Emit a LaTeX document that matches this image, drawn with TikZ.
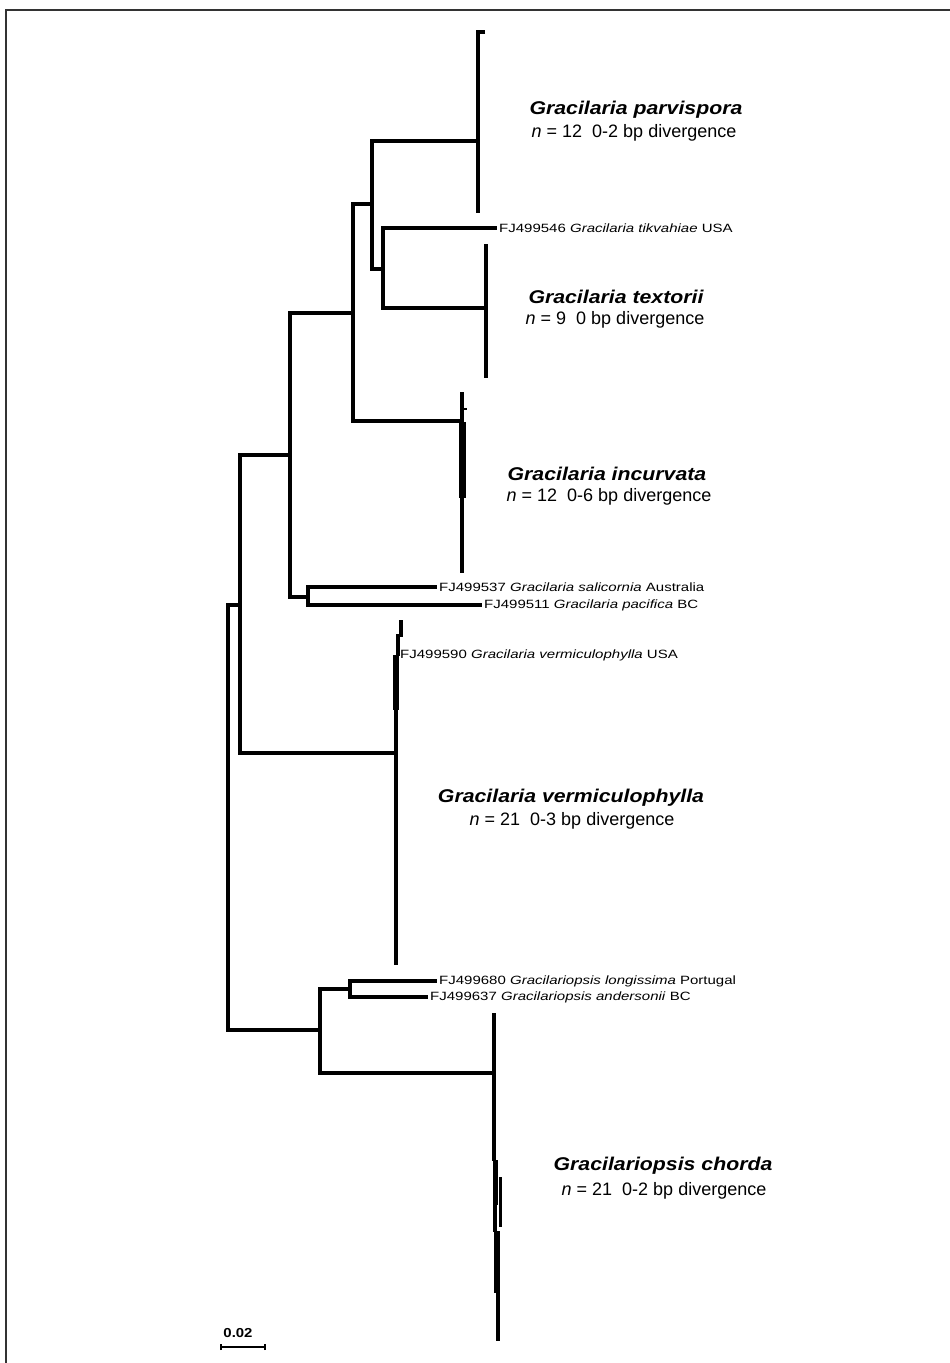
\documentclass[tikz,border=0pt]{standalone}
\usepackage{fontspec}
\setmainfont{Liberation Sans}
\usepackage{graphicx}
\usetikzlibrary{positioning}

% text in the tree is set a little wider than the font
\newcommand{\tipw}[1]{\scalebox{1.25}[1]{#1}}
\newcommand{\cladew}[1]{\scalebox{1.15}[1]{#1}}

\begin{document}
\begin{tikzpicture}[x=1pt,y=-1pt,
  branch/.style={line width=3.4pt},
  tiplab/.style={anchor=west,inner sep=2pt,font=\fontsize{12}{12}\selectfont},
  cladename/.style={inner sep=0pt,font=\fontsize{18.5}{20}\selectfont\bfseries\itshape},
  cladeinfo/.style={inner sep=0pt,font=\fontsize{18}{18}\selectfont}]
\useasboundingbox (0,0) rectangle (950,1363);
\draw[line width=1.4pt,black!80] (6,1363) |- (950,10);

% internal nodes of the tree
\coordinate (root) at (228,817);
\coordinate (nA) at (240,605);
\coordinate (nB) at (290,455);
\coordinate (nC) at (353,313);
\coordinate (nD) at (308,597);
\coordinate (nE) at (372,204);
\coordinate (nF) at (383,269);
\coordinate (nG) at (320,1030);
\coordinate (nH) at (350,989);
% collapsed clades
\coordinate (parv) at (478,141);
\coordinate (text) at (486,308);
\coordinate (incu) at (462,421);
\coordinate (verm) at (396,753);
\coordinate (chor) at (494,1073);

% single sequences
\node[tiplab] (tik) at (497,228) {\tipw{FJ499546 \textit{Gracilaria tikvahiae} USA}};
\node[tiplab] (sal) at (437,587) {\tipw{FJ499537 \textit{Gracilaria salicornia} Australia}};
\node[tiplab] (pac) at (482,605) {\tipw{FJ499511 \textit{Gracilaria pacifica} BC}};
\node[tiplab] (vus) at (398,655) {\tipw{FJ499590 \textit{Gracilaria vermiculophylla} USA}};
\node[tiplab] (lon) at (437,981) {\tipw{FJ499680 \textit{Gracilariopsis longissima} Portugal}};
\node[tiplab] (and) at (428,997) {\tipw{FJ499637 \textit{Gracilariopsis andersonii} BC}};

\draw[branch] (root) |- (nA);
\draw[branch] (root) |- (nG);
\draw[branch] (nA) |- (nB);
\draw[branch] (nA) |- (verm);
\draw[branch] (nB) |- (nC);
\draw[branch] (nB) |- (nD);
\draw[branch] (nC) |- (nE);
\draw[branch] (nC) |- (incu);
\draw[branch] (nE) |- (parv);
\draw[branch] (nE) |- (nF);
\draw[branch] (nF) |- (tik.west);
\draw[branch] (nF) |- (text);
\draw[branch] (nD) |- (sal.west);
\draw[branch] (nD) |- (pac.west);
\draw[branch] (nG) |- (nH);
\draw[branch] (nG) |- (chor);
\draw[branch] (nH) |- (lon.west);
\draw[branch] (nH) |- (and.west);

% clade bars
\draw[branch] (485,32) -| (478,213);
\draw[branch] (486,244) -- (486,378);
\draw[branch] (462,392) -- (462,573);
\draw[line width=2.4pt] (462,409) -- (467,409);
\fill (459,422) rectangle (466,498);
\draw[branch] (401,620) -- (401,637);
\draw[line width=4pt] (398,634) -- (398,656);
\fill (393,655) rectangle (399,710);
\draw[line width=4pt] (396,709) -- (396,843);
\draw[branch] (396,842) -- (396,965);
\draw[branch] (494,1013) -- (494,1161);
\fill (492.5,1160) rectangle (498,1205);
\draw[branch] (495,1204) -- (495,1232);
\draw[branch] (500.5,1177) -- (500.5,1227);
\fill (494,1231) rectangle (499.5,1293);
\draw[branch] (498,1292) -- (498,1341);

% clade labels
\node[cladename] (tparv) at (636,110) {\cladew{Gracilaria parvispora}};
\node[cladeinfo] (iparv) at (634,133) {\textit{n} = 12~~0-2 bp divergence};
\node[cladename] (ttext) at (616,297) {\cladew{Gracilaria textorii}};
\node[cladeinfo] (itext) at (615,320) {\textit{n} = 9~~0 bp divergence};
\node[cladename] (tincu) at (607,474) {\cladew{Gracilaria incurvata}};
\node[cladeinfo] (iincu) at (609,497) {\textit{n} = 12~~0-6 bp divergence};
\node[cladename] (tverm) at (571,798) {\cladew{Gracilaria vermiculophylla}};
\node[cladeinfo] (iverm) at (572,821) {\textit{n} = 21~~0-3 bp divergence};
\node[cladename] (tchor) at (663,1166) {\cladew{Gracilariopsis chorda}};
\node[cladeinfo] (ichor) at (664,1191) {\textit{n} = 21~~0-2 bp divergence};

% scale bar
\coordinate (sbL) at (221,1347);
\coordinate (sbR) at (265,1347);
\draw[line width=1.6pt] (sbL) -- (sbR);
\draw[line width=1.6pt] ([yshift=-3pt]sbL) -- ([yshift=3pt]sbL);
\draw[line width=1.6pt] ([yshift=-3pt]sbR) -- ([yshift=3pt]sbR);
\node[font=\fontsize{13}{13}\selectfont\bfseries,inner sep=0pt] (sbtxt) at (238,1333) {\scalebox{1.15}[1]{0.02}};
\end{tikzpicture}
\end{document}
